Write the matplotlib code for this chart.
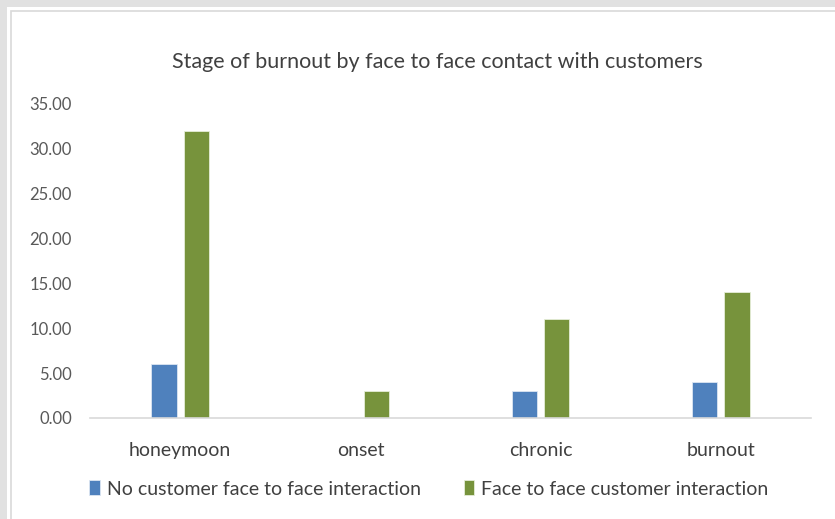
import numpy as np
import matplotlib.pyplot as plt
from matplotlib.patches import Rectangle

plt.rcParams['font.family'] = ['Lato', 'DejaVu Sans']

stages = ['honeymoon', 'onset', 'chronic', 'burnout']
no_face = [6, 0, 3, 4]
face = [32, 3, 11, 14]
yticks = np.arange(0, 36, 5)

fig = plt.figure(figsize=(8.35, 5.19), dpi=100)
fig.patch.set_facecolor('#e1e1e1')
# white panel with thin border
fig.patches.append(Rectangle((7 / 835, 0), 1, 1 - 7 / 519, transform=fig.transFigure,
                             facecolor='white', edgecolor='none', zorder=-2))
fig.patches.append(Rectangle((11 / 835, -0.01), 1, 1 - 11 / 519 + 0.01, transform=fig.transFigure,
                             facecolor='white', edgecolor='#d9d9d9', linewidth=1.2, zorder=-1))

ax = fig.add_axes([90 / 835, 1 - 418 / 519, 721 / 835, 314 / 519])
ax.set_zorder(2)
ax.set_facecolor('none')
x = np.arange(len(stages))
w = 0.14
ax.bar(x - 0.089, no_face, w, color='#4f81bd', edgecolor='#dce6f2', linewidth=0.6,
       label='No customer face to face interaction')
ax.bar(x + 0.089, face, w, color='#77933c', edgecolor='#e6eed8', linewidth=0.6,
       label='Face to face customer interaction')

ax.set_xlim(-0.5, 3.5)
ax.set_ylim(0, 35)
ax.set_yticks(yticks)
ax.set_yticklabels(['%.2f' % v for v in yticks], color='#595959', fontsize=12)
ax.set_xticks(x)
ax.set_xticklabels(stages, color='#404040', fontsize=14)
ax.tick_params(axis='y', length=0, pad=13)
ax.tick_params(axis='x', length=0, pad=17)
for s in ['top', 'right', 'left']:
    ax.spines[s].set_visible(False)
ax.spines['bottom'].set_color('#d9d9d9')
ax.spines['bottom'].set_linewidth(1.2)

fig.text(437 / 835, 1 - 62 / 519, 'Stage of burnout by face to face contact with customers',
         ha='center', va='center', fontsize=15.5, color='#404040', zorder=3)

leg = fig.legend(loc='center', bbox_to_anchor=(429 / 835, 1 - 489 / 519), ncol=2, frameon=False,
                 fontsize=14, handlelength=0.55, handleheight=0.8, handletextpad=0.35,
                 columnspacing=2.2, labelcolor='#404040')
leg.set_zorder(3)

fig.savefig('out.png', dpi=100, facecolor=fig.get_facecolor())
